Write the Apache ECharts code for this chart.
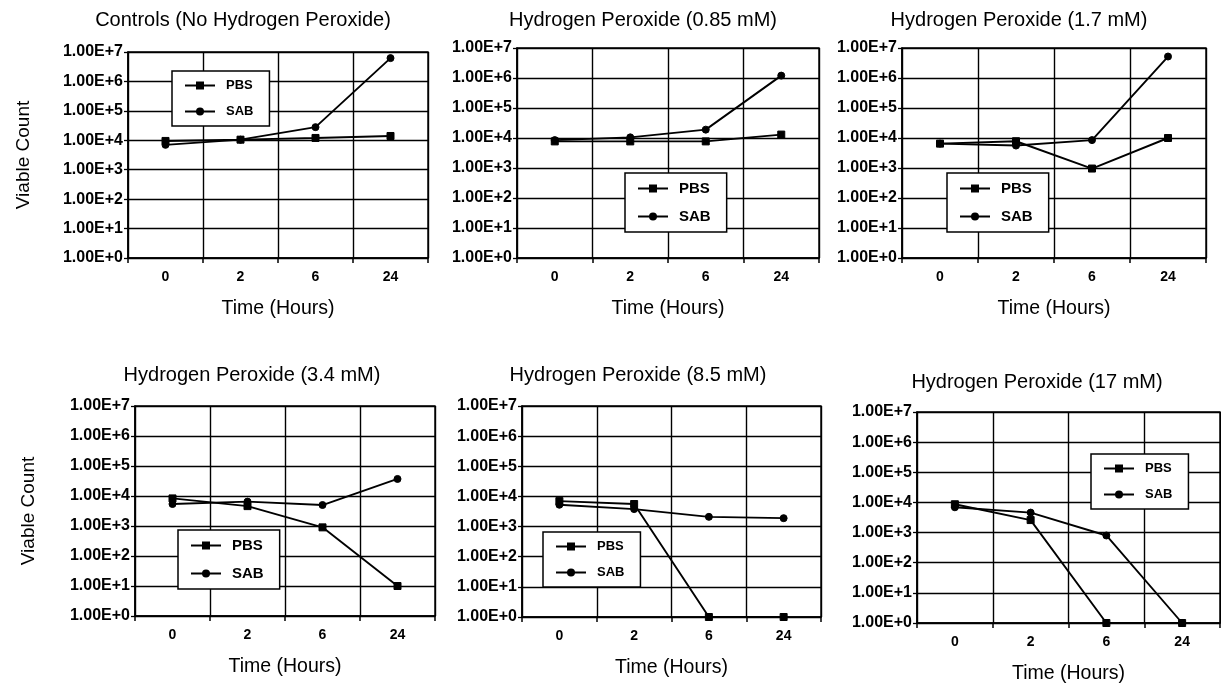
<!DOCTYPE html>
<html>
<head>
<meta charset="utf-8">
<script src="https://cdn.jsdelivr.net/npm/echarts@6/dist/echarts.min.js"></script>
<style>
  html, body { margin: 0; padding: 0; background: #fff; }
  #chart { width: 1221px; height: 686px; }
</style>
</head>
<body>
<div id="chart"></div>
<script>
// time points (hours) on the x axis
const hours = ['0', '2', '6', '24'];
const seriesNames = ['PBS', 'SAB'];

// viable counts
const ctrlPBS = [9500, 10500, 12000, 14000];
const ctrlSAB = [7000, 10500, 28000, 6200000];
const h085PBS = [7700, 7700, 7700, 13000];
const h085SAB = [8500, 10500, 19000, 1200000];
const h17PBS = [6500, 7800, 960, 10000];
const h17SAB = [6500, 5600, 8500, 5200000];
const h34PBS = [8300, 4600, 900, 10];
const h34SAB = [5400, 6500, 5000, 37000];
const h85PBS = [7000, 5600, 1, 1];
const h85SAB = [5300, 3800, 2100, 1900];
const h17mPBS = [8700, 2600, 1, 1];
const h17mSAB = [6900, 4600, 800, 1];

const FONT = "'Liberation Sans', Arial, sans-serif";

// layout of each of the six small charts
const panels = [
  { title: 'Controls (No Hydrogen Peroxide)', pbs: ctrlPBS, sab: ctrlSAB,
    grid: { left: 128, top: 52, width: 300, height: 206 }, tx: 243, ty: 20,
    legend: { left: 172, top: 71 }, lf: 13, yName: 95 },
  { title: 'Hydrogen Peroxide (0.85 mM)', pbs: h085PBS, sab: h085SAB,
    grid: { left: 517, top: 48, width: 302, height: 210 }, tx: 643, ty: 20,
    legend: { left: 625, top: 173 }, lf: 15 },
  { title: 'Hydrogen Peroxide (1.7 mM)', pbs: h17PBS, sab: h17SAB,
    grid: { left: 902, top: 48, width: 304, height: 210 }, tx: 1019, ty: 20,
    legend: { left: 947, top: 173 }, lf: 15 },
  { title: 'Hydrogen Peroxide (3.4 mM)', pbs: h34PBS, sab: h34SAB,
    grid: { left: 135, top: 406, width: 300, height: 210 }, tx: 252, ty: 375,
    legend: { left: 178, top: 530 }, lf: 15, yName: 97 },
  { title: 'Hydrogen Peroxide (8.5 mM)', pbs: h85PBS, sab: h85SAB,
    grid: { left: 522, top: 406, width: 299, height: 211 }, tx: 638, ty: 375,
    legend: { left: 543, top: 532 }, lf: 13 },
  { title: 'Hydrogen Peroxide (17 mM)', pbs: h17mPBS, sab: h17mSAB,
    grid: { left: 917, top: 412, width: 303, height: 211 }, tx: 1037, ty: 382,
    legend: { left: 1091, top: 454 }, lf: 13 }
];

const chart = echarts.init(document.getElementById('chart'), null, { renderer: 'canvas' });

const grids = [], xAxes = [], yAxes = [], series = [], legends = [], graphics = [];

panels.forEach((p, i) => {
  grids.push(Object.assign({ show: true, borderColor: '#000', borderWidth: 1.4, backgroundColor: 'transparent' }, p.grid));

  xAxes.push({
    type: 'category', gridIndex: i, data: hours, boundaryGap: true,
    name: 'Time (Hours)', nameLocation: 'middle', nameGap: 41,
    nameTextStyle: { fontFamily: FONT, fontSize: 19.5, color: '#000' },
    axisLine: { lineStyle: { color: '#000', width: 1.6 } },
    axisTick: { show: true, length: 5, lineStyle: { color: '#000', width: 1.5 } },
    axisLabel: { margin: 12, fontFamily: FONT, fontSize: 14, fontWeight: 'bold', color: '#000' },
    splitLine: { show: true, lineStyle: { color: '#000', width: 1.4 } }
  });

  yAxes.push({
    type: 'log', gridIndex: i, logBase: 10, min: 1, max: 1e7, interval: 1,
    name: p.yName ? 'Viable Count' : '', nameLocation: 'middle', nameGap: p.yName || 0,
    nameTextStyle: { fontFamily: FONT, fontSize: 19, color: '#000' },
    axisLine: { show: true, lineStyle: { color: '#000', width: 1.6 } },
    axisTick: { show: true, length: 4, lineStyle: { color: '#000', width: 1.3 } },
    axisLabel: {
      margin: 5, fontFamily: FONT, fontSize: 16, fontWeight: 'bold', color: '#000',
      formatter: v => '1.00E+' + Math.round(Math.log10(v))
    },
    splitLine: { show: true, lineStyle: { color: '#000', width: 1.4 } }
  });

  const lineOf = (name, data, symbol) => ({
    name: name, type: 'line', xAxisIndex: i, yAxisIndex: i, data: data,
    symbol: symbol, symbolSize: 7, showAllSymbol: true,
    lineStyle: { color: '#000', width: 1.9 },
    itemStyle: { color: '#000', borderColor: '#000' },
    emphasis: { disabled: true }, animation: false
  });
  series.push(lineOf(seriesNames[0], p.pbs, 'rect'));
  series.push(lineOf(seriesNames[1], p.sab, 'circle'));

  legends.push({
    data: seriesNames,
    orient: 'vertical', left: p.legend.left, top: p.legend.top,
    backgroundColor: '#fff', borderColor: '#000', borderWidth: 1.5,
    padding: [8, 16, 8, 12], itemGap: 13, itemWidth: 30, itemHeight: 10,
    textStyle: { fontFamily: FONT, fontSize: p.lf, fontWeight: 'bold', color: '#000', padding: [0, 0, 0, 6] },
    selectedMode: false
  });

  graphics.push({
    type: 'text', x: p.tx, y: p.ty,
    style: { text: p.title, font: '20px ' + FONT, fill: '#000', align: 'center', verticalAlign: 'middle' }
  });
});

chart.setOption({
  backgroundColor: '#fff',
  animation: false,
  grid: grids,
  xAxis: xAxes,
  yAxis: yAxes,
  series: series,
  legend: legends,
  graphic: graphics
});
</script>
</body>
</html>
